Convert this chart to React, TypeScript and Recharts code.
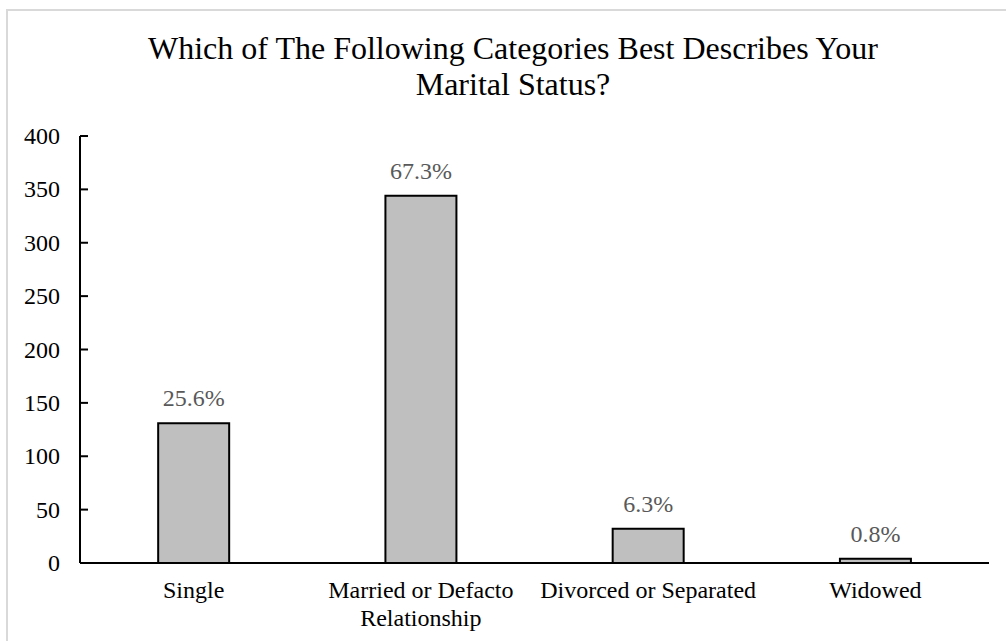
import React from 'react';
import { BarChart, Bar, XAxis, YAxis, LabelList } from 'recharts';

const categories: string[] = ['Single', 'Married or Defacto Relationship', 'Divorced or Separated', 'Widowed'];
const counts: number[] = [131, 344, 32, 4];
const yTicks: number[] = [0, 50, 100, 150, 200, 250, 300, 350, 400];
// category labels as they break over lines under the axis
const categoryLines: string[][] = [['Single'], ['Married or Defacto', 'Relationship'], ['Divorced or Separated'], ['Widowed']];
const titleLines: string[] = ['Which of The Following Categories Best Describes Your', 'Marital Status?'];

const FONT = '"Liberation Serif", "Times New Roman", serif';
const total = counts.reduce((s, v) => s + v, 0);

const data = categories.map((name, i) => ({
    name,
    count: counts[i],
    pct: `${((counts[i] / total) * 100).toFixed(1)}%`,
}));

// y ticks point inward, labels sit to the left of the axis line
function YTick({ x, y, payload }: any) {
    return (
        <g>
            <line x1={x} x2={x + 8} y1={y} y2={y} stroke="#000" strokeWidth={2} />
            <text x={x - 20} y={y} dy={8} textAnchor="end" fontFamily={FONT} fontSize={24} fill="#000">
                {payload.value}
            </text>
        </g>
    );
}

function XTick({ x, y, payload }: any) {
    const idx = categories.indexOf(payload.value);
    const lines = idx >= 0 ? categoryLines[idx] : [String(payload.value)];
    return (
        <text x={x} y={y + 35} textAnchor="middle" fontFamily={FONT} fontSize={24} fill="#000">
            {lines.map((line, i) => (
                <tspan key={i} x={x} dy={i === 0 ? 0 : 28}>
                    {line}
                </tspan>
            ))}
        </text>
    );
}

function PctLabel({ x, y, width, value }: any) {
    return (
        <text x={x + width / 2} y={y - 17} textAnchor="middle" fontFamily={FONT} fontSize={24} fill="#595959">
            {value}
        </text>
    );
}

export default function App() {
    return (
        <div style={{ position: 'absolute', left: 0, top: 0, width: 1006, height: 641, background: '#fff', overflow: 'hidden' }}>
            <div
                style={{
                    position: 'absolute',
                    left: 6,
                    top: 9,
                    width: 1020,
                    height: 660,
                    border: '2px solid #d9d9d9',
                    boxSizing: 'border-box',
                }}
            />
            <svg width={1006} height={120} style={{ position: 'absolute', left: 0, top: 0 }}>
                {titleLines.map((line, i) => (
                    <text key={i} x={513} y={59 + i * 36} textAnchor="middle" fontFamily={FONT} fontSize={32} fill="#000">
                        {line}
                    </text>
                ))}
            </svg>
            <div style={{ position: 'absolute', left: 0, top: 0 }}>
                <BarChart
                    width={1006}
                    height={641}
                    data={data}
                    margin={{ top: 136, right: 17, bottom: 0, left: 0 }}
                    barCategoryGap="34.4%"
                >
                    <XAxis
                        dataKey="name"
                        height={78}
                        tickLine={false}
                        tickSize={0}
                        tickMargin={0}
                        axisLine={{ stroke: '#000', strokeWidth: 2 }}
                        tick={<XTick />}
                        interval={0}
                    />
                    <YAxis
                        width={80}
                        domain={[0, 400]}
                        ticks={yTicks}
                        tickLine={false}
                        tickSize={0}
                        tickMargin={0}
                        axisLine={{ stroke: '#000', strokeWidth: 2 }}
                        tick={<YTick />}
                        interval={0}
                    />
                    <Bar dataKey="count" fill="#bfbfbf" stroke="#000" strokeWidth={2} isAnimationActive={false}>
                        <LabelList dataKey="pct" content={<PctLabel />} />
                    </Bar>
                </BarChart>
            </div>
        </div>
    );
}
